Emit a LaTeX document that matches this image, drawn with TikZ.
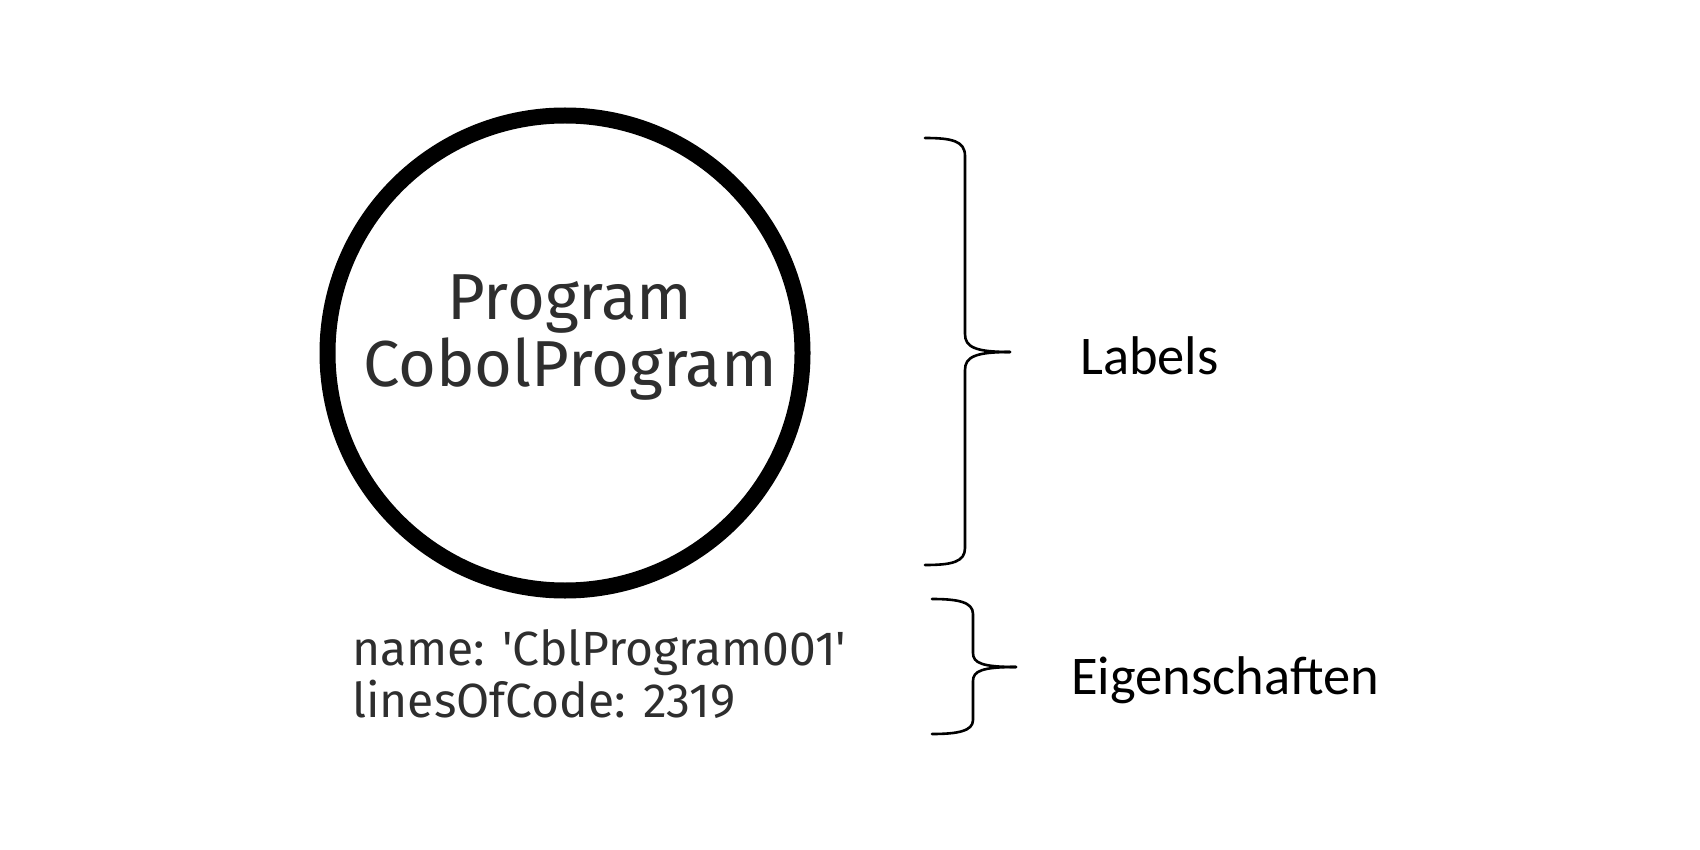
\documentclass[tikz,border=0pt]{standalone}
\usepackage{fontspec}
\setmainfont{Fira Sans}
\newfontfamily\calib{Carlito}
\definecolor{txtgray}{HTML}{2E2E2E}
\begin{document}
\begin{tikzpicture}[x=1pt,y=-1pt,
  bracestyle/.style={draw=black, line width=2.6pt, line cap=round, line join=round},
  nodetext/.style={text=txtgray, inner sep=0pt},
  sidetext/.style={text=black, inner sep=0pt, anchor=base west, font=\calib\fontsize{54.5}{60}\selectfont}]
\useasboundingbox (0,0) rectangle (1700,850);
\fill[white] (0,0) rectangle (1700,850);
% node circle
\node[circle, draw=black, line width=16pt, minimum size=475pt, inner sep=0pt] (prog) at (565,353) {};
\node[nodetext, align=center, font=\fontsize{65}{67}\selectfont] (lbl) at (570,338) {Program\\CobolProgram};
\node[nodetext, align=left, anchor=west, font=\fontsize{48}{52}\selectfont] (props) at (352,674) {name: \textquotesingle CblProgram001\textquotesingle\\linesOfCode: 2319};
% braces
\coordinate (b1tip) at (1010,352);
\coordinate (b2tip) at (1016,667);
\draw[bracestyle] (925,138) .. controls (952,138) and (965,141) .. (965,156) -- (965,334)
  .. controls (965,347) and (975,352) .. (b1tip);
\draw[bracestyle] (b1tip) .. controls (975,352) and (965,357) .. (965,370) -- (965,548)
  .. controls (965,562) and (952,565) .. (925,565);
\draw[bracestyle] (932,599) .. controls (958,599) and (973,602) .. (973,614) -- (973,653)
  .. controls (973,663) and (982,667) .. (b2tip);
\draw[bracestyle] (b2tip) .. controls (982,667) and (973,671) .. (973,681) -- (973,720)
  .. controls (973,731) and (958,734) .. (932,734);
\node[sidetext] (labels) at (1080,374) {Labels};
\node[sidetext] (eigen) at (1071,694) {Eigenschaften};
\end{tikzpicture}
\end{document}
